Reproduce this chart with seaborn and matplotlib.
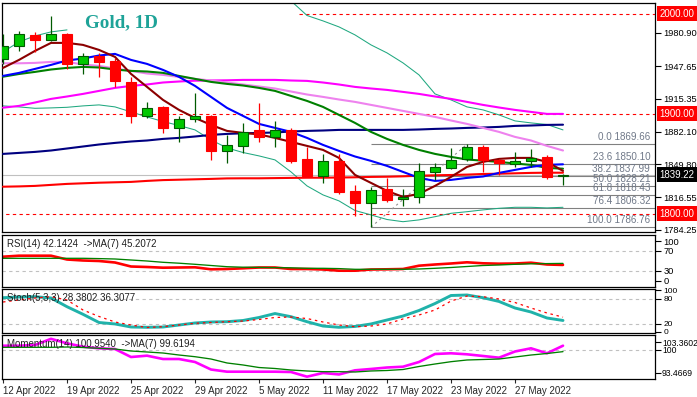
"""Gold, 1D: velas + medias móviles + RSI / Stoch / Momentum (estilo MT4)."""
import matplotlib
matplotlib.use("Agg")
import matplotlib.pyplot as plt
import numpy as np
import seaborn as sns

# ---- datos ---------------------------------------------------------------
dates = ["12 Apr 2022", "13 Apr 2022", "14 Apr 2022", "18 Apr 2022", "19 Apr 2022",
         "20 Apr 2022", "21 Apr 2022", "22 Apr 2022", "25 Apr 2022", "26 Apr 2022",
         "27 Apr 2022", "28 Apr 2022", "29 Apr 2022", "2 May 2022", "3 May 2022",
         "4 May 2022", "5 May 2022", "6 May 2022", "9 May 2022", "10 May 2022",
         "11 May 2022", "12 May 2022", "13 May 2022", "16 May 2022", "17 May 2022",
         "18 May 2022", "19 May 2022", "20 May 2022", "23 May 2022", "24 May 2022",
         "25 May 2022", "26 May 2022", "27 May 2022", "30 May 2022", "31 May 2022",
         "1 Jun 2022"]
tick_idx = [0, 4, 8, 12, 16, 20, 24, 28, 32]

opens = [1955, 1968, 1979, 1974, 1980, 1950, 1958, 1953, 1932, 1898, 1907, 1886,
         1895, 1898, 1863, 1867.5, 1884, 1877, 1884, 1855, 1838, 1853, 1823, 1810.5,
         1825, 1814.5, 1816.5, 1841.5, 1845.5, 1854.5, 1867, 1854, 1850, 1852.5,
         1857, 1837.5]
highs = [1980, 1983, 1982, 1998, 1981, 1961, 1961, 1956, 1937, 1912, 1908, 1898,
         1920.5, 1899, 1879, 1890.5, 1910.5, 1893, 1886, 1867, 1859.5, 1859.5, 1829,
         1827, 1836, 1824.5, 1850.5, 1850.5, 1865.5, 1869.66, 1869.2, 1855, 1862,
         1865, 1858.6, 1840]
lows = [1950, 1963, 1962, 1973, 1945, 1940, 1937, 1927, 1891, 1896, 1881, 1872,
        1892, 1854, 1850.6, 1861, 1872, 1866.6, 1851, 1837, 1831, 1820, 1798,
        1786.76, 1812, 1808, 1810.6, 1834, 1844.6, 1853, 1842, 1839, 1847, 1847,
        1835, 1829]
closes = [1968, 1980, 1974, 1980, 1950, 1958, 1951.5, 1932.6, 1898, 1905.5, 1886,
          1894.5, 1898, 1863, 1869, 1881.5, 1877, 1884, 1853, 1838, 1852.5, 1821.5,
          1811, 1824, 1814, 1816.5, 1842.5, 1846.5, 1854, 1866.5, 1854, 1850.5, 1853,
          1855.5, 1837, 1839.22]

ma_maroon = [1946, 1954, 1963, 1971, 1971, 1969, 1964, 1957, 1940, 1927, 1914, 1904,
             1896, 1889, 1883, 1881, 1879.5, 1876, 1872, 1868, 1864, 1856, 1839, 1831,
             1823, 1817, 1820, 1828, 1837, 1847, 1852, 1855, 1856, 1856, 1852, 1843]
ma_blue = [1938, 1941, 1945, 1949, 1953.4, 1955.4, 1958.4, 1960, 1954, 1950, 1944,
           1937, 1928, 1917, 1906, 1898, 1890, 1886, 1882, 1876, 1869, 1863, 1857.4,
           1853, 1848, 1842, 1836, 1833, 1834, 1836, 1837.4, 1841, 1844, 1847, 1849,
           1849.6]
ma_green = [1937.2, 1939.9, 1942, 1944.4, 1946, 1947, 1946.4, 1944.4, 1943, 1942.4,
            1941, 1938, 1935, 1932, 1930, 1928.4, 1926, 1923, 1918, 1913, 1907, 1899,
            1891, 1882, 1875, 1869, 1864, 1860, 1857, 1854.4, 1853.2, 1852, 1850.4,
            1849, 1846, 1845.2]
ma_violet = [1950.6, 1950.6, 1951, 1952, 1952, 1949.4, 1948, 1945.4, 1943, 1940.4,
             1939, 1937, 1935, 1933.4, 1931.4, 1929.4, 1927.4, 1925.4, 1922.4, 1919.4,
             1917, 1914.4, 1912, 1909, 1906, 1903, 1900, 1897, 1893.4, 1890, 1886,
             1882, 1877, 1873.4, 1868, 1863.4]
ma_magenta = [1906.2, 1908, 1911.4, 1915, 1917.4, 1920, 1923, 1926, 1928, 1929.4,
              1931.4, 1932.4, 1933.2, 1933.4, 1933.6, 1934, 1934, 1934, 1933.4, 1933,
              1931.4, 1929.4, 1927, 1925.4, 1924, 1922, 1920, 1917.4, 1915, 1912,
              1909, 1906.4, 1904, 1902, 1900, 1900]
ma_navy = [1860, 1861, 1862, 1863.4, 1865.4, 1867.4, 1869.4, 1871, 1872.4, 1873.4,
           1875, 1876, 1877.4, 1879, 1880, 1880.6, 1881, 1881.4, 1882.4, 1883, 1883.4,
           1884, 1884, 1884, 1884, 1884, 1884.4, 1885, 1885.4, 1886, 1886.4, 1887,
           1888, 1888.4, 1889, 1889.2]
ma_red = [1827.2, 1827.5, 1828, 1829, 1830, 1830.6, 1831.2, 1831.6, 1832, 1833,
          1833.8, 1834.2, 1834.6, 1835, 1835.5, 1835.6, 1835.6, 1835.8, 1836, 1836.2,
          1836.2, 1836.4, 1836.6, 1837, 1837.2, 1837.6, 1838.2, 1838.6, 1838.9,
          1839.3, 1839.9, 1840.2, 1840.6, 1841, 1841.2, 1841.2]
# banda superior: fuera de la ventana (por encima) entre el 20 Apr y el 6 May
band_up = [1962, 1972, 1978, 1982, 1984] + [np.nan] * 13 + [
           2013, 1998.4, 1993, 1987, 1979, 1969, 1961, 1951, 1939, 1920, 1914, 1907,
           1904, 1899, 1893, 1891, 1889.4, 1884]
band_dn = [1908, 1907, 1905.6, 1906, 1906.6, 1908, 1909, 1907, 1902, 1897, 1892.4,
           1888.4, 1884, 1874, 1866, 1861.4, 1858, 1854, 1842, 1828, 1819, 1813,
           1803.4, 1799, 1794.4, 1792.2, 1794, 1797.2, 1800.6, 1802.2, 1804, 1805.6,
           1806.6, 1806.6, 1806, 1806.6]

fib_pct = ["0.0", "23.6", "38.2", "50.0", "61.8", "76.4", "100.0"]
fib_levels = [1869.66, 1850.10, 1837.99, 1828.21, 1818.43, 1806.32, 1786.76]
alert_levels = [2000.00, 1900.00, 1800.00]
main_ticks = [1980.90, 1947.65, 1915.35, 1882.10, 1849.80, 1816.55, 1784.25]

rsi = [58.6, 60.6, 60.6, 60.6, 53, 51, 50, 47, 39, 38, 36.6, 37, 37.4, 33.4, 34,
       35.4, 37, 37, 34, 34, 33, 30.6, 30.6, 33, 33.4, 34, 40.6, 43, 45, 47.4, 45.4,
       44.6, 45, 46.6, 43, 42.1424]
rsi_ma = [55.4, 55.4, 55.4, 55.4, 55.4, 55.4, 54.8, 54, 52, 50, 47.4, 45.6, 43.4, 41,
          38.6, 37.6, 37.2, 36.8, 36.4, 35.4, 35.4, 34.8, 33.4, 33.4, 33.4, 33.4, 34,
          35.4, 37, 39, 41, 42, 43.4, 44.4, 44.8, 45.2072]
stoch_k = [83, 84.7, 85.4, 82.3, 61.4, 43.2, 23.5, 20, 12.7, 12, 12.7, 17.5, 22.3,
           24.7, 25.4, 28.3, 35.5, 45, 37.4, 25.4, 15, 12, 14, 20, 29.5, 39, 52.3, 69,
           88.3, 89.5, 83, 74, 58.3, 48.7, 34.3, 28.3802]
stoch_d = [72.7, 77.5, 82.3, 85.4, 77.5, 53.5, 38, 24.7, 17.5, 11.5, 13.4, 17.5, 21.6,
           23.5, 25.4, 27, 30.7, 35.5, 36.7, 33, 24.7, 17.5, 13.4, 15, 20, 32, 41.5,
           53.5, 75, 87, 85.4, 80, 71.5, 58.3, 46.3, 36.3077]
mom = [100.95, 100.95, 101.11, 102.5, 101.49, 100.73, 100.37, 100.21, 98.41, 98.71,
       97.96, 97.96, 97.29, 95.6, 95.11, 95.11, 95.11, 95.11, 95.04, 93.99, 94.82,
       94.49, 95.42, 95.72, 96.05, 96.23, 97.29, 99.09, 99.25, 99.02, 98.64, 98.26,
       99.65, 100.37, 99.25, 100.9540]
mom_ma = [100.59, 100.59, 100.59, 100.59, 100.66, 100.55, 100.37, 100.21, 99.76,
          99.54, 99.31, 98.86, 98.48, 97.96, 97.07, 96.62, 96.05, 95.83, 95.49, 95.27,
          95.11, 95.11, 95.04, 95.27, 95.38, 95.6, 96.28, 96.84, 97.36, 97.74, 97.85,
          97.96, 98.41, 98.86, 99.2, 99.6194]
mom_range = [93.4669, 103.3602]

# ---- figura ----------------------------------------------------------------
W, H = 697, 397
sns.set_style("ticks")
plt.rcParams["font.family"] = ["Liberation Sans", "DejaVu Sans"]
FS = 6.7

fig = plt.figure(figsize=(W / 100, H / 100), dpi=100)
fig.patch.set_facecolor("white")


def panel(top, bottom, fs=FS):
    a = fig.add_axes([2 / W, 1 - bottom / H, 653 / W, (bottom - top) / H])
    a.set_xlim(-0.0625, 40.75)
    for s in a.spines.values():
        s.set_color("black")
        s.set_linewidth(0.9)
    a.yaxis.tick_right()
    a.tick_params(axis="y", right=True, left=False, direction="out", length=4,
                  width=0.8, pad=2, labelsize=fs, colors="black")
    a.tick_params(axis="x", bottom=False, labelbottom=False)
    return a


ax = panel(3, 232)
ax_rsi = panel(235, 287)
ax_sto = panel(289, 333, fs=6.0)
ax_mom = panel(335, 379, fs=6.2)
ax_mom.tick_params(axis="y", pad=1)

x = np.arange(len(dates))
THICK, THIN = 1.5, 0.75

# ---- panel principal -------------------------------------------------------
ax.set_ylim(1781.9, 2010.9)
ax.axhline(closes[-1], color="#c0c0c0", lw=0.8, zorder=1)
for lvl in alert_levels:
    x0 = 18.5 if lvl == max(alert_levels) else -1
    ax.hlines(lvl, x0, 41, color="red", lw=0.8, linestyles=(0, (3, 3)), zorder=1)

i_lo = lows.index(fib_levels[-1])
i_hi = highs.index(fib_levels[0])
ax.hlines(fib_levels, i_lo, 41, color="#808080", lw=0.8, zorder=1)
ax.plot([i_lo, i_hi], [fib_levels[-1], fib_levels[0]], color="#909090", lw=0.8,
        ls=(0, (2, 3)), zorder=1)
for p, lvl in zip(fib_pct, fib_levels):
    ax.text(40.45, lvl + 2.0, f"{p} {lvl:.2f}", ha="right", va="bottom",
            fontsize=FS + 0.4, color="#6f7888", zorder=2)

ax.plot(x, band_up, color="#20a880", lw=THIN, zorder=2)
ax.plot(x, band_dn, color="#20a880", lw=THIN, zorder=2)
for ser, col in [(ma_red, "#ff0000"), (ma_navy, "#000080"), (ma_magenta, "#ff00ff"),
                 (ma_violet, "#ee82ee"), (ma_green, "#008000"), (ma_blue, "#0000ff"),
                 (ma_maroon, "#8b0000")]:
    sns.lineplot(x=x, y=ser, color=col, lw=THICK, ax=ax, zorder=3)

o, h, l, c = (np.array(v, dtype=float) for v in (opens, highs, lows, closes))
up = c >= o
lo_b = np.minimum(o, c)
hgt = np.maximum(np.abs(c - o), 1.0)
ax.vlines(x[up], l[up], h[up], color="#005a00", lw=0.9, zorder=5)
ax.vlines(x[~up], l[~up], h[~up], color="#ff0000", lw=0.9, zorder=5)
ax.bar(x[up], hgt[up], bottom=lo_b[up], width=0.62, color="#00c800",
       edgecolor="#005a00", lw=0.8, zorder=6)
ax.bar(x[~up], hgt[~up], bottom=lo_b[~up], width=0.62, color="#ff0000",
       edgecolor="#ff0000", lw=0.8, zorder=6)

ax.set_yticks(main_ticks, [f"{t:.2f}" for t in main_ticks])
ax.set_ylabel("")
ytr = ax.get_yaxis_transform()
for lvl in alert_levels:
    ax.text(1.007, lvl, f"{lvl:.2f}", transform=ytr, ha="left", va="center",
            fontsize=FS + 0.3, color="white", clip_on=False, zorder=10,
            bbox=dict(boxstyle="square,pad=0.25", fc="#ff0000", ec="none"))
ax.text(1.007, closes[-1], f"{closes[-1]:.2f}", transform=ytr, ha="left",
        va="center", fontsize=FS + 0.3, color="white", clip_on=False, zorder=10,
        bbox=dict(boxstyle="square,pad=0.25", fc="black", ec="none"))

fig.text(85 / W, 1 - 27 / H, "Gold, 1D", family="Liberation Serif", weight="bold",
         fontsize=13.7, color="#1ea398", va="baseline", ha="left")

# ---- RSI -------------------------------------------------------------------
ax_rsi.set_ylim(-2, 102)
for lvl in (70, 30):
    ax_rsi.axhline(lvl, color="#c0c0c0", lw=0.8, ls=(0, (3, 3)))
sns.lineplot(x=x, y=rsi, color="#ff0000", lw=THICK + 0.4, ax=ax_rsi)
sns.lineplot(x=x, y=rsi_ma, color="#008000", lw=THIN + 0.2, ax=ax_rsi)
ax_rsi.set_yticks([89.5, 70, 30, 11], ["100", "70", "30", "0"])
fig.text(7 / W, 1 - 244 / H,
         f"RSI(14) {rsi[-1]:.4f}  ->MA(7) {rsi_ma[-1]:.4f}",
         fontsize=FS + 0.3, va="center", color="#202020")

# ---- Stochastic ------------------------------------------------------------
ax_sto.set_ylim(-1.7, 103.9)
for lvl in (80, 20):
    ax_sto.axhline(lvl, color="#c0c0c0", lw=0.8, ls=(0, (3, 3)))
sns.lineplot(x=x, y=stoch_k, color="#20b2aa", lw=THICK + 0.6, ax=ax_sto)
ax_sto.plot(x, stoch_d, color="#ff0000", lw=0.9, ls=(0, (2, 3)))
ax_sto.set_yticks([101, 81, 21, 1.5], ["100", "80", "20", "0"])
fig.text(7 / W, 1 - 298 / H,
         f"Stoch(5,3,3) {stoch_k[-1]:.4f} {stoch_d[-1]:.4f}",
         fontsize=FS + 0.3, va="center", color="#202020")

# ---- Momentum --------------------------------------------------------------
ax_mom.set_ylim(*mom_range)
ax_mom.axhline(100, color="#c0c0c0", lw=0.8, ls=(0, (3, 3)))
sns.lineplot(x=x, y=mom, color="#ff00ff", lw=THICK + 0.4, ax=ax_mom)
sns.lineplot(x=x, y=mom_ma, color="#008000", lw=THIN + 0.2, ax=ax_mom)
ax_mom.set_yticks([101.72, 100, 94.88],
                  [f"{mom_range[1]:.4f}", "100", f"{mom_range[0]:.4f}"])
fig.text(7 / W, 1 - 344 / H,
         f"Momentum(14) {mom[-1]:.4f}  ->MA(7) {mom_ma[-1]:.4f}",
         fontsize=FS + 0.3, va="center", color="#202020")

ax_mom.set_xticks(tick_idx, [dates[i] for i in tick_idx])
ax_mom.tick_params(axis="x", bottom=True, labelbottom=True, direction="out",
                   length=3, width=0.8, pad=2, labelsize=FS + 0.3)
for lab in ax_mom.get_xticklabels():
    lab.set_ha("left")

for a in (ax, ax_rsi, ax_sto, ax_mom):
    a.set_xlim(-0.0625, 40.75)
    a.set_xlabel("")
    a.set_ylabel("")

fig.savefig("out.png", dpi=100, facecolor="white")
